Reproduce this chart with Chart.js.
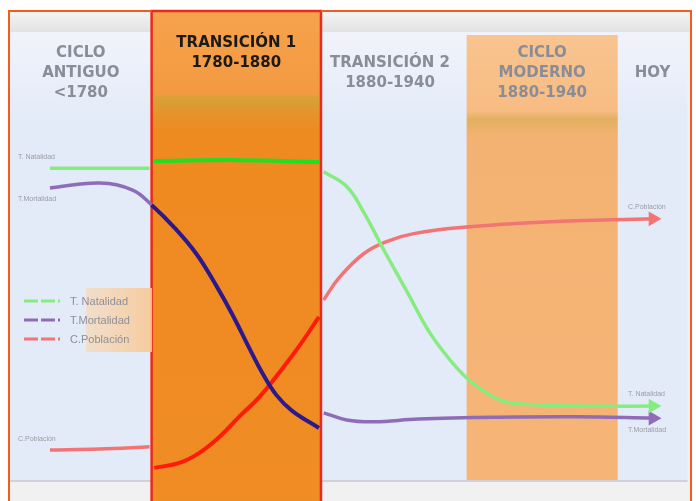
<!DOCTYPE html>
<html>
<head>
<meta charset="utf-8">
<script src="https://cdn.jsdelivr.net/npm/chart.js@4.4.0/dist/chart.umd.min.js"></script>
<style>
  body { margin: 0; background: #fff; }
  #wrap { position: relative; width: 696px; height: 501px; }
</style>
</head>
<body>
<div id="wrap"><canvas id="chart" width="696" height="501"></canvas></div>
<script>
// phases of the demographic transition (x in arbitrary time units, 0-100)
var phaseNames = [["CICLO", "ANTIGUO", "<1780"], ["TRANSICIÓN 1", "1780-1880"], ["TRANSICIÓN 2", "1880-1940"], ["CICLO", "MODERNO", "1880-1940"], ["HOY"]];
var phaseStart = [0, 20.9, 45.9, 67.4, 89.7];
var phaseEnd = [20.9, 45.9, 67.4, 89.7, 100];

var seriesLabels = ["T. Natalidad", "T.Mortalidad", "C.Población"];

// x positions and values, null = break at the band edge
var natalidadX = [5.9, 13.2, 20.6, 20.8, 21.2, 33.8, 45.6, 45.8, 46.3, 49.7, 52.2, 55.3, 58.8, 61.9, 65.4, 68.4, 72.1, 75.0, 83.8, 94.9];
var natalidadY = [69.6, 69.6, 69.6, null, 71.2, 71.4, 71.0, null, 68.8, 65.5, 59.8, 51.0, 41.5, 33.0, 26.0, 21.5, 18.0, 17.0, 16.5, 16.5];

var mortalidadX = [5.9, 13.2, 18.1, 20.9, 24.3, 27.5, 30.4, 32.8, 35.3, 37.2, 39.3, 41.6, 45.6, 45.8, 46.3, 49.7, 53.7, 60.3, 72.1, 83.8, 94.9];
var mortalidadY = [65.2, 66.3, 64.7, 61.4, 56.3, 50.5, 43.5, 37.0, 29.5, 24.0, 19.0, 15.5, 11.6, null, 15.0, 13.4, 13.0, 13.6, 14.0, 14.1, 13.8];

var poblacionX = [5.9, 13.2, 20.6, 20.8, 21.3, 25.0, 27.9, 30.9, 33.8, 36.8, 39.7, 42.6, 45.6, 45.8, 46.3, 48.5, 52.2, 55.9, 59.6, 66.9, 79.1, 94.9];
var poblacionY = [6.7, 6.9, 7.4, null, 2.7, 3.8, 6.0, 9.6, 14.1, 18.5, 23.9, 29.7, 36.4, null, 40.2, 45.0, 50.5, 53.4, 55.0, 56.4, 57.6, 58.3];

var softColors = ["#86ec80", "#8f6cb8", "#f27474"];
var strongColors = ["#1ee01e", "#2c1a8c", "#ff1a0a"];
var labelSide = [-1, 1, -1]; // small labels above (-1) or below (1) the line ends

function toPoints(xs, ys) {
    return xs.map(function(x, i) { return { x: x, y: ys[i] }; });
}

function inT1(x) { return x >= phaseStart[1] && x <= phaseEnd[1]; }

function makeDataset(i, xs, ys) {
    var last = xs.length - 1;
    return {
        label: seriesLabels[i],
        data: toPoints(xs, ys),
        borderColor: softColors[i],
        borderWidth: 3.5,
        tension: 0.4,
        spanGaps: false,
        segment: {
            borderColor: function(ctx) { return inT1(ctx.p0.parsed.x) && inT1(ctx.p1.parsed.x) ? strongColors[i] : softColors[i]; },
            borderWidth: function(ctx) { return inT1(ctx.p0.parsed.x) && inT1(ctx.p1.parsed.x) ? 4 : 3.5; }
        },
        pointStyle: 'triangle',
        pointRotation: 90,
        pointRadius: function(ctx) { return ctx.dataIndex === last ? 5 : 0; },
        pointBackgroundColor: softColors[i],
        pointBorderColor: softColors[i]
    };
}

var backdrop = {
    id: 'backdrop',
    beforeDraw: function(chart) {
        var c = chart.ctx, a = chart.chartArea, xs = chart.scales.x;
        c.save();
        c.fillStyle = '#ffffff';
        c.fillRect(0, 0, 696, 501);
        // outer frame
        c.fillStyle = '#f1f1f1';
        c.fillRect(9, 10, 682, 491);
        var g = c.createLinearGradient(0, 12, 0, 32);
        g.addColorStop(0, '#f4f4f4');
        g.addColorStop(1, '#e2e2e2');
        c.fillStyle = g;
        c.fillRect(9, 12, 682, 20);
        // main panel
        g = c.createLinearGradient(0, a.top, 0, a.top + 90);
        g.addColorStop(0, '#f1f3fb');
        g.addColorStop(1, '#e3ebf8');
        c.fillStyle = g;
        c.fillRect(a.left, a.top, a.right - a.left, a.bottom - a.top);
        c.fillStyle = '#cfd2d8';
        c.fillRect(a.left, a.bottom, a.right - a.left, 2);

        // moderno band
        var mx0 = xs.getPixelForValue(phaseStart[3]), mx1 = xs.getPixelForValue(phaseEnd[3]);
        g = c.createLinearGradient(0, a.top + 3, 0, a.bottom);
        g.addColorStop(0, '#f9c490');
        g.addColorStop(0.17, '#f7bc82');
        g.addColorStop(0.19, '#e2b060');
        g.addColorStop(0.23, '#f4b272');
        g.addColorStop(1, '#f6b577');
        c.fillStyle = g;
        c.fillRect(mx0, a.top + 3, mx1 - mx0, a.bottom - a.top - 3);

        // transition 1 band
        var tx0 = xs.getPixelForValue(phaseStart[1]), tx1 = xs.getPixelForValue(phaseEnd[1]);
        g = c.createLinearGradient(0, 10, 0, 501);
        g.addColorStop(0, '#f6a24e');
        g.addColorStop(0.17, '#f39a40');
        g.addColorStop(0.18, '#d8a038');
        g.addColorStop(0.22, '#e89028');
        g.addColorStop(0.26, '#ee8a20');
        g.addColorStop(1, '#f08c24');
        c.fillStyle = g;
        c.fillRect(tx0, 10, tx1 - tx0, 491);

        // phase headings
        c.textAlign = 'center';
        c.textBaseline = 'middle';
        c.font = 'bold 15px "DejaVu Sans", sans-serif';
        var headTop = [53, 43, 63, 53, 73];
        phaseNames.forEach(function(lines, p) {
            var cx = (xs.getPixelForValue(phaseStart[p]) + xs.getPixelForValue(phaseEnd[p])) / 2;
            if (p === 2) cx = 390;
            c.fillStyle = p === 1 ? '#1c1a18' : '#8a8d98';
            lines.forEach(function(t, k) { c.fillText(t, cx, headTop[p] + k * 20); });
        });

        c.strokeStyle = '#ea2a1c';
        c.lineWidth = 2.5;
        c.strokeRect(tx0, 11, tx1 - tx0, 492);

        // orange frame
        c.strokeStyle = '#f25c1e';
        c.lineWidth = 2;
        c.beginPath();
        c.moveTo(9, 505); c.lineTo(9, 11); c.lineTo(tx0, 11);
        c.moveTo(tx1, 11); c.lineTo(691, 11); c.lineTo(691, 505);
        c.stroke();
        c.restore();
    },
    afterDatasetsDraw: function(chart) {
        var c = chart.ctx;
        c.save();
        // small labels at both ends of every line
        c.font = '7px "Liberation Sans", Arial, sans-serif';
        c.fillStyle = '#9a9ca4';
        c.textBaseline = 'middle';
        chart.data.datasets.forEach(function(ds, i) {
            var pts = chart.getDatasetMeta(i).data;
            var p0 = pts[0], p1 = pts[pts.length - 1];
            c.textAlign = 'left';
            c.fillText(ds.label, 18, p0.y + labelSide[i] * 11);
            c.fillText(ds.label, 628, p1.y + labelSide[i] * 12);
        });

        // legend
        var lg = c.createLinearGradient(82, 0, 150, 0);
        lg.addColorStop(0, 'rgba(250,214,176,0.6)');
        lg.addColorStop(1, 'rgba(248,200,150,0.9)');
        c.fillStyle = lg;
        c.fillRect(86, 288, 66, 64);
        c.font = '11px "Liberation Sans", Arial, sans-serif';
        c.textAlign = 'left';
        chart.data.datasets.forEach(function(ds, i) {
            var y = 301 + i * 19;
            c.strokeStyle = ds.borderColor;
            c.lineWidth = 3;
            c.setLineDash([14, 3]);
            c.beginPath(); c.moveTo(24, y); c.lineTo(60, y); c.stroke();
            c.fillStyle = '#8e8f96';
            c.fillText(ds.label, 70, y + 1);
        });
        c.restore();
    }
};

new Chart(document.getElementById('chart'), {
    type: 'line',
    data: {
        datasets: [
            makeDataset(0, natalidadX, natalidadY),
            makeDataset(1, mortalidadX, mortalidadY),
            makeDataset(2, poblacionX, poblacionY)
        ]
    },
    options: {
        responsive: false,
        animation: false,
        devicePixelRatio: 1,
        layout: { padding: { left: 10, right: 6, top: 32, bottom: 21 } },
        scales: {
            x: { type: 'linear', min: 0, max: 100, display: false },
            y: { min: 0, max: 100, display: false }
        },
        plugins: { legend: { display: false }, tooltip: { enabled: false } }
    },
    plugins: [backdrop]
});
</script>
</body>
</html>
